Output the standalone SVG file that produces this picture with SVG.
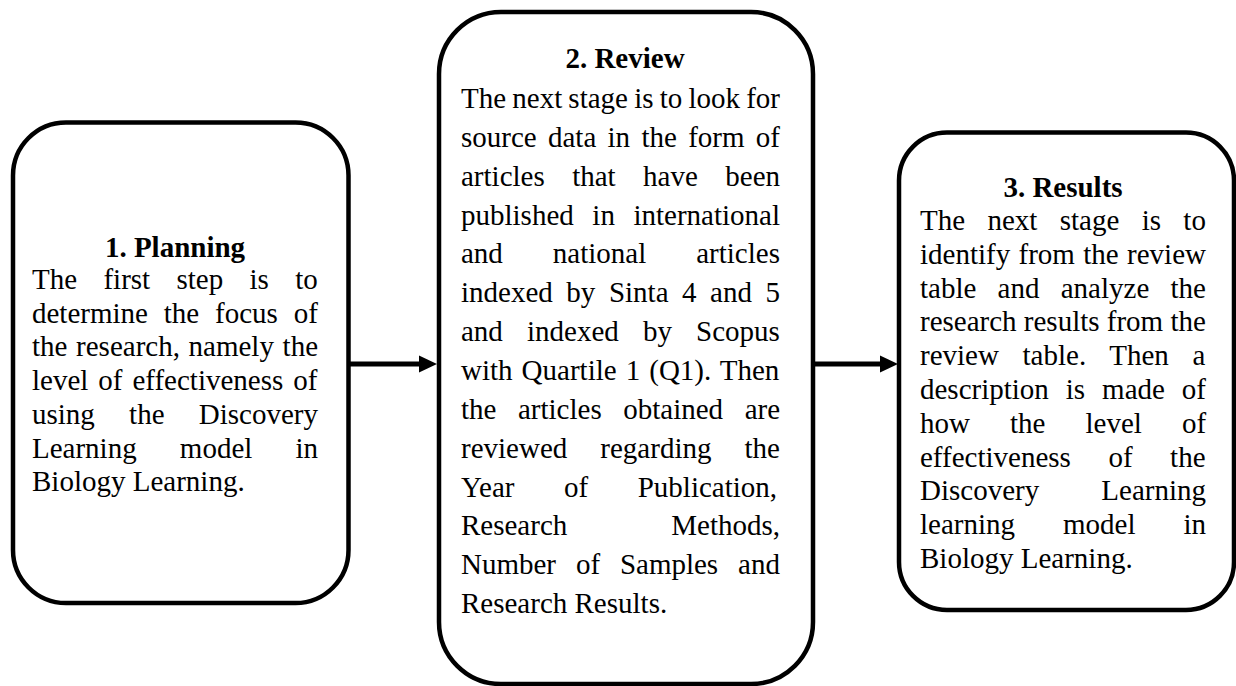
<svg xmlns="http://www.w3.org/2000/svg" width="1236" height="686" viewBox="0 0 1236 686">
<style>
.box{fill:#fff;stroke:#000;stroke-width:4.5}
text{font-family:"Liberation Serif","Times New Roman",serif;font-size:29px;fill:#000}
.t{font-weight:bold;text-anchor:middle}
.c{stroke:#000;stroke-width:5;fill:none}
</style>
<defs>
<marker id="ah" markerUnits="userSpaceOnUse" markerWidth="19" markerHeight="18" refX="0" refY="8.5" orient="auto" overflow="visible">
<path d="M0,0 L18,8.5 L0,17 Z" fill="#000"/>
</marker>
</defs>
<rect width="1236" height="686" fill="#fff"/>
<g id="connectors">
<line class="c" x1="348" y1="364" x2="419" y2="364" marker-end="url(#ah)"/>
<line class="c" x1="813" y1="364" x2="880" y2="364" marker-end="url(#ah)"/>
</g>
<g id="node-planning">
<rect class="box" x="13" y="122.5" width="335.5" height="480.5" rx="53"/>
<text class="t" x="175" y="257">1. Planning</text>
<text x="32" y="289" word-spacing="19.1">The first step is to</text>
<text x="32" y="322.7" word-spacing="8.6">determine the focus of</text>
<text x="32" y="356.4" word-spacing="1.4">the research, namely the</text>
<text x="32" y="390.1" word-spacing="2.7">level of effectiveness of</text>
<text x="32" y="423.8" word-spacing="27">using the Discovery</text>
<text x="32" y="457.5" word-spacing="35.9">Learning model in</text>
<text x="32" y="491.2">Biology Learning.</text>
</g>
<g id="node-review">
<rect class="box" x="439" y="12" width="374" height="672" rx="62"/>
<text class="t" x="625" y="68">2. Review</text>
<text x="461" y="108" word-spacing="-1.07">The next stage is to look for</text>
<text x="461" y="146.85" word-spacing="4.04">source data in the form of</text>
<text x="461" y="185.7" word-spacing="20.2">articles that have been</text>
<text x="461" y="224.55" word-spacing="11.3">published in international</text>
<text x="461" y="263.4" word-spacing="42.7">and national articles</text>
<text x="461" y="302.25" word-spacing="6.3">indexed by Sinta 4 and 5</text>
<text x="461" y="341.1" word-spacing="16.9">and indexed by Scopus</text>
<text x="461" y="379.95" word-spacing="1.8">with Quartile 1 (Q1). Then</text>
<text x="461" y="418.8" word-spacing="14.3">the articles obtained are</text>
<text x="461" y="457.65" word-spacing="25.8">reviewed regarding the</text>
<text x="461" y="496.5" word-spacing="42.3">Year of Publication,</text>
<text x="461" y="535.35" word-spacing="96.7">Research Methods,</text>
<text x="461" y="574.2" word-spacing="12.6">Number of Samples and</text>
<text x="461" y="613.05">Research Results.</text>
</g>
<g id="node-results">
<rect class="box" x="899" y="132.5" width="335" height="477.5" rx="48"/>
<text class="t" x="1063" y="197">3. Results</text>
<text x="920" y="230" word-spacing="15.1">The next stage is to</text>
<text x="920" y="263.8" word-spacing="1.1">identify from the review</text>
<text x="920" y="297.6" word-spacing="14">table and analyze the</text>
<text x="920" y="331.4">research results from the</text>
<text x="920" y="365.2" word-spacing="16.4">review table. Then a</text>
<text x="920" y="399" word-spacing="9.7">description is made of</text>
<text x="920" y="432.8" word-spacing="32.8">how the level of</text>
<text x="920" y="466.6" word-spacing="30.3">effectiveness of the</text>
<text x="920" y="500.4" word-spacing="54.9">Discovery Learning</text>
<text x="920" y="534.2" word-spacing="40.7">learning model in</text>
<text x="920" y="568">Biology Learning.</text>
</g>
</svg>
